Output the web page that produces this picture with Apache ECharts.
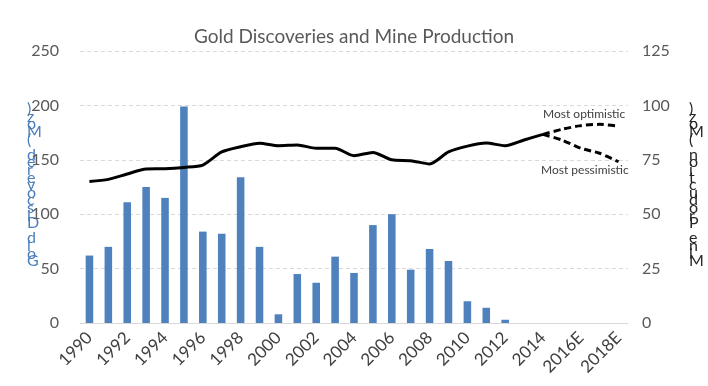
<!DOCTYPE html>
<html>
<head>
<meta charset="utf-8">
<script src="https://cdn.jsdelivr.net/npm/echarts@6/dist/echarts.min.js"></script>
<style>html,body{margin:0;padding:0;background:#fff}#c{width:708px;height:386px}</style>
</head>
<body>
<div id="c"></div>
<script>
const categories = ['1990','1991','1992','1993','1994','1995','1996','1997','1998','1999','2000','2001','2002','2003','2004','2005','2006','2007','2008','2009','2010','2011','2012','2013','2014','2015E','2016E','2017E','2018E'];
const discoveries = [62,70,111,125,115,199,84,82,134,70,8,45,37,61,46,90,100,49,68,57,20,14,3,null,null,null,null,null,null];
const production = [65,66,68.5,70.8,70.9,71.5,72.6,78.6,81,82.6,81.5,81.8,80.3,80.3,76.9,78.4,75,74.6,73.1,78.6,81.3,82.7,81.5,84.1,86.7,null,null,null,null];
const optimistic = [null,null,null,null,null,null,null,null,null,null,null,null,null,null,null,null,null,null,null,null,null,null,null,null,86.7,89,90.7,91.3,90.5];
const pessimistic = [null,null,null,null,null,null,null,null,null,null,null,null,null,null,null,null,null,null,null,null,null,null,null,null,86.7,84.1,80.3,78,74.1];
const leftTicks = [0,50,100,150,200,250];
const rightTicks = [0,25,50,75,100,125];
const titleText = 'Gold Discoveries and Mine Production';
const leftName = 'Gold Discovered (Moz)';
const rightName = 'Mine Production (Moz)';

const FONT = 'Lato';
const stack = s => s.split('').reverse().join('\n');

const chart = echarts.init(document.getElementById('c'));
chart.setOption({
  animation: false,
  backgroundColor: '#fff',
  title: {
    text: titleText, left: 'center', top: 22,
    textStyle: {fontFamily: FONT, fontSize: 19, fontWeight: 'normal', color: '#595959'}
  },
  grid: {left: 80, right: 80, top: 51, bottom: 63, containLabel: false},
  xAxis: {
    type: 'category', data: categories,
    axisLine: {lineStyle: {color: '#d9d9d9', width: 1}},
    axisTick: {show: false},
    axisLabel: {interval: 1, rotate: 45, fontFamily: FONT, fontSize: 17, color: '#404040', margin: 12}
  },
  yAxis: [
    {type: 'value', min: leftTicks[0], max: leftTicks[leftTicks.length-1], interval: 50,
     axisLine: {show: false}, axisTick: {show: false},
     axisLabel: {fontFamily: FONT, fontSize: 16, color: '#595959', margin: 21},
     splitLine: {lineStyle: {color: '#d9d9d9', type: [4,3], width: 1}}},
    {type: 'value', min: rightTicks[0], max: rightTicks[rightTicks.length-1], interval: 25,
     axisLine: {show: false}, axisTick: {show: false},
     axisLabel: {fontFamily: FONT, fontSize: 16, color: '#595959', margin: 14},
     splitLine: {show: false}}
  ],
  graphic: [
    {type: 'text', left: 27, top: 101, style: {text: stack(leftName), fontFamily: FONT, fontSize: 16, lineHeight: 7.6, fill: '#4a7ebb', align: 'center'}},
    {type: 'text', left: 689, top: 101, style: {text: stack(rightName), fontFamily: FONT, fontSize: 16, lineHeight: 7.6, fill: '#262626', align: 'center'}},
    {type: 'text', left: 543, top: 108, style: {text: 'Most optimistic', fontFamily: FONT, fontSize: 12, fill: '#404040'}},
    {type: 'text', left: 541, top: 164, style: {text: 'Most pessimistic', fontFamily: FONT, fontSize: 12, fill: '#404040'}}
  ],
  series: [
    {type: 'bar', name: 'Discoveries', data: discoveries, yAxisIndex: 0, barWidth: '40%',
     itemStyle: {color: '#4f81bd'}},
    {type: 'line', name: 'Production', data: production, yAxisIndex: 1, smooth: 0.25, symbol: 'none',
     lineStyle: {color: '#000', width: 3}},
    {type: 'line', name: 'Optimistic', data: optimistic, yAxisIndex: 1, smooth: 0.25, symbol: 'none',
     lineStyle: {color: '#000', width: 3, type: [7,4]}},
    {type: 'line', name: 'Pessimistic', data: pessimistic, yAxisIndex: 1, smooth: 0.25, symbol: 'none',
     lineStyle: {color: '#000', width: 3, type: [7,4]}}
  ]
});
</script>
</body>
</html>
